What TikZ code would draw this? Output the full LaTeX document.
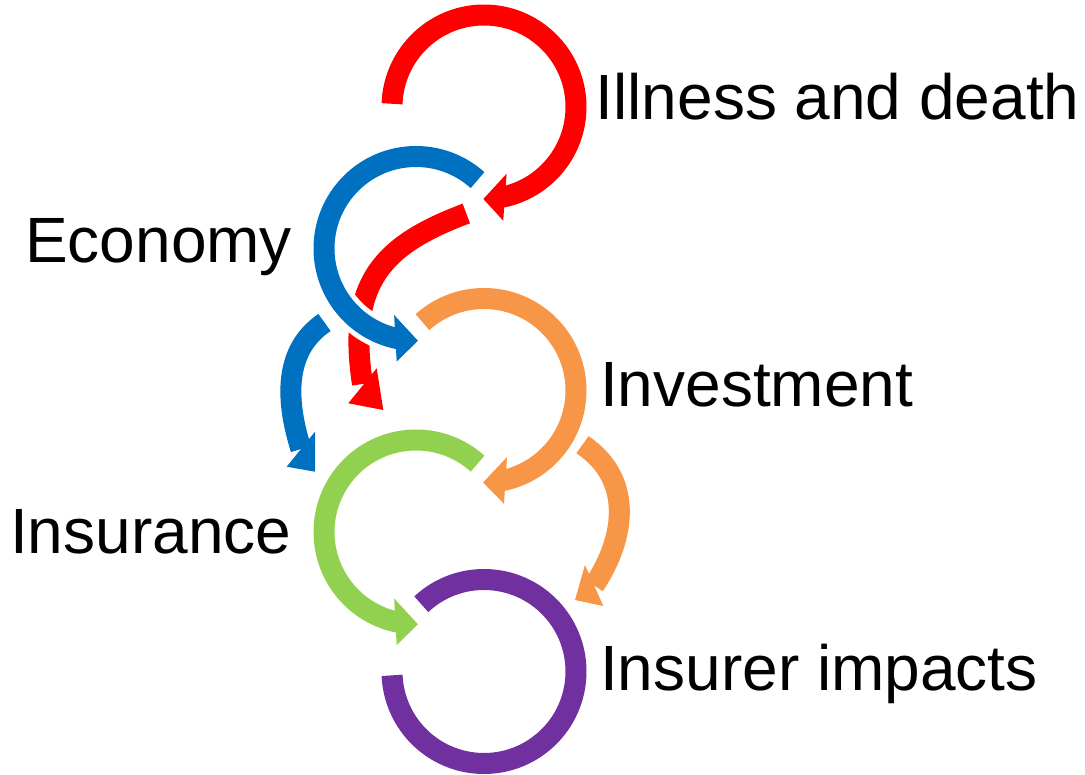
\documentclass[tikz,border=0pt]{standalone}
\usepackage{fontspec}
\setmainfont{Liberation Sans}
\definecolor{cred}{HTML}{FF0000}
\definecolor{cblue}{HTML}{0070C0}
\definecolor{corange}{HTML}{F79646}
\definecolor{cgreen}{HTML}{92D050}
\definecolor{cpurple}{HTML}{7030A0}
\begin{document}
\begin{tikzpicture}[x=1pt,y=-1pt,
  halo/.style={draw=white, line width=31pt, line cap=butt},
  tiphalo/.style={draw=white, fill=white, line width=10pt, line join=round},
  band/.style={draw=#1, line width=21pt, line cap=butt},
  tipfill/.style={fill=#1},
  tagtext/.style={font=\fontsize{64}{64}\selectfont, anchor=base west, inner sep=0pt}
]
\useasboundingbox (0,0) rectangle (1085,775);

% ring centres
\coordinate (cR) at (484,107);
\coordinate (cB) at (416,248.5);
\coordinate (cO) at (484,390.5);
\coordinate (cG) at (416,532);
\coordinate (cP) at (484,671.5);

% ---------- red loop: illness and death ----------
\draw[halo] ([shift={(182:92)}]cR) arc[start angle=182, end angle=439, radius=92];
\filldraw[tiphalo] ([shift={(431.3:70.5)}]cR) -- ([shift={(450.4:92)}]cR) -- ([shift={(440.4:115.3)}]cR) -- cycle;
\draw[band=cred] ([shift={(182:92)}]cR) arc[start angle=182, end angle=439, radius=92];
\fill[tipfill=cred] ([shift={(431.3:70.5)}]cR) -- ([shift={(450.4:92)}]cR) -- ([shift={(440.4:115.3)}]cR) -- cycle;

% red link down to insurance
\coordinate (rs0) at (466.3,213.5);
\coordinate (rs1) at (362.5,384);
\draw[halo] (rs0) .. controls (382,245) and (347,283) .. (rs1);
\filldraw[tiphalo] (376.7,368.3) -- (383.3,410) -- (348.3,403.3) -- cycle;
\draw[band=cred] (rs0) .. controls (382,245) and (347,283) .. (rs1);
\fill[tipfill=cred] (376.7,368.3) -- (383.3,410) -- (348.3,403.3) -- cycle;

% blue link down to insurance
\coordinate (bs0) at (324.5,322.5);
\coordinate (bs1) at (301,449);
\draw[halo] (bs0) .. controls (283,350.5) and (286,401.5) .. (bs1);
\filldraw[tiphalo] (315,431.7) -- (315,471.7) -- (286.7,466.7) -- cycle;
\draw[band=cblue] (bs0) .. controls (283,350.5) and (286,401.5) .. (bs1);
\fill[tipfill=cblue] (315,431.7) -- (315,471.7) -- (286.7,466.7) -- cycle;

% ---------- blue loop: economy ----------
\draw[halo] ([shift={(312:92)}]cB) arc[start angle=312, end angle=101, radius=92];
\filldraw[tiphalo] ([shift={(108.2:70)}]cB) -- ([shift={(88.8:92.3)}]cB) -- ([shift={(99.7:114.7)}]cB) -- cycle;
\draw[band=cblue] ([shift={(312:92)}]cB) arc[start angle=312, end angle=101, radius=92];
\fill[tipfill=cblue] ([shift={(108.2:70)}]cB) -- ([shift={(88.8:92.3)}]cB) -- ([shift={(99.7:114.7)}]cB) -- cycle;

% ---------- orange loop: investment ----------
\draw[halo] ([shift={(228:92)}]cO) arc[start angle=228, end angle=439, radius=92];
\filldraw[tiphalo] ([shift={(431:70.5)}]cO) -- ([shift={(450.6:92)}]cO) -- ([shift={(440:115)}]cO) -- cycle;
\draw[band=corange] ([shift={(228:92)}]cO) arc[start angle=228, end angle=439, radius=92];
\fill[tipfill=corange] ([shift={(431:70.5)}]cO) -- ([shift={(450.6:92)}]cO) -- ([shift={(440:115)}]cO) -- cycle;

% orange link down to insurer impacts
\coordinate (os0) at (582.5,444.7);
\coordinate (os1) at (594,585.5);
\draw[halo] (os0) .. controls (632.3,478.3) and (627,535.7) .. (os1);
\filldraw[tiphalo] (585,565) -- (603.3,606) -- (575,600) -- cycle;
\draw[band=corange] (os0) .. controls (632.3,478.3) and (627,535.7) .. (os1);
\fill[tipfill=corange] (585,565) -- (603.3,606) -- (575,600) -- cycle;

% ---------- green loop: insurance ----------
\draw[halo] ([shift={(312:92)}]cG) arc[start angle=312, end angle=101, radius=92];
\filldraw[tiphalo] ([shift={(108.2:70)}]cG) -- ([shift={(88.8:92.3)}]cG) -- ([shift={(99.7:114.7)}]cG) -- cycle;
\draw[band=cgreen] ([shift={(312:92)}]cG) arc[start angle=312, end angle=101, radius=92];
\fill[tipfill=cgreen] ([shift={(108.2:70)}]cG) -- ([shift={(88.8:92.3)}]cG) -- ([shift={(99.7:114.7)}]cG) -- cycle;

% ---------- purple loop: insurer impacts ----------
\draw[halo] ([shift={(227:92)}]cP) arc[start angle=227, end angle=537.6, radius=92];
\draw[band=cpurple] ([shift={(227:92)}]cP) arc[start angle=227, end angle=537.6, radius=92];

% ---------- labels ----------
\node[tagtext] (tIll) at (595.5,120) {Illness and death};
\node[tagtext] (tEco) at (25,263) {Economy};
\node[tagtext] (tInv) at (600,406.7) {Investment};
\node[tagtext] (tIns) at (10,553) {Insurance};
\node[tagtext] (tImp) at (600,690) {Insurer impacts};
\end{tikzpicture}
\end{document}
